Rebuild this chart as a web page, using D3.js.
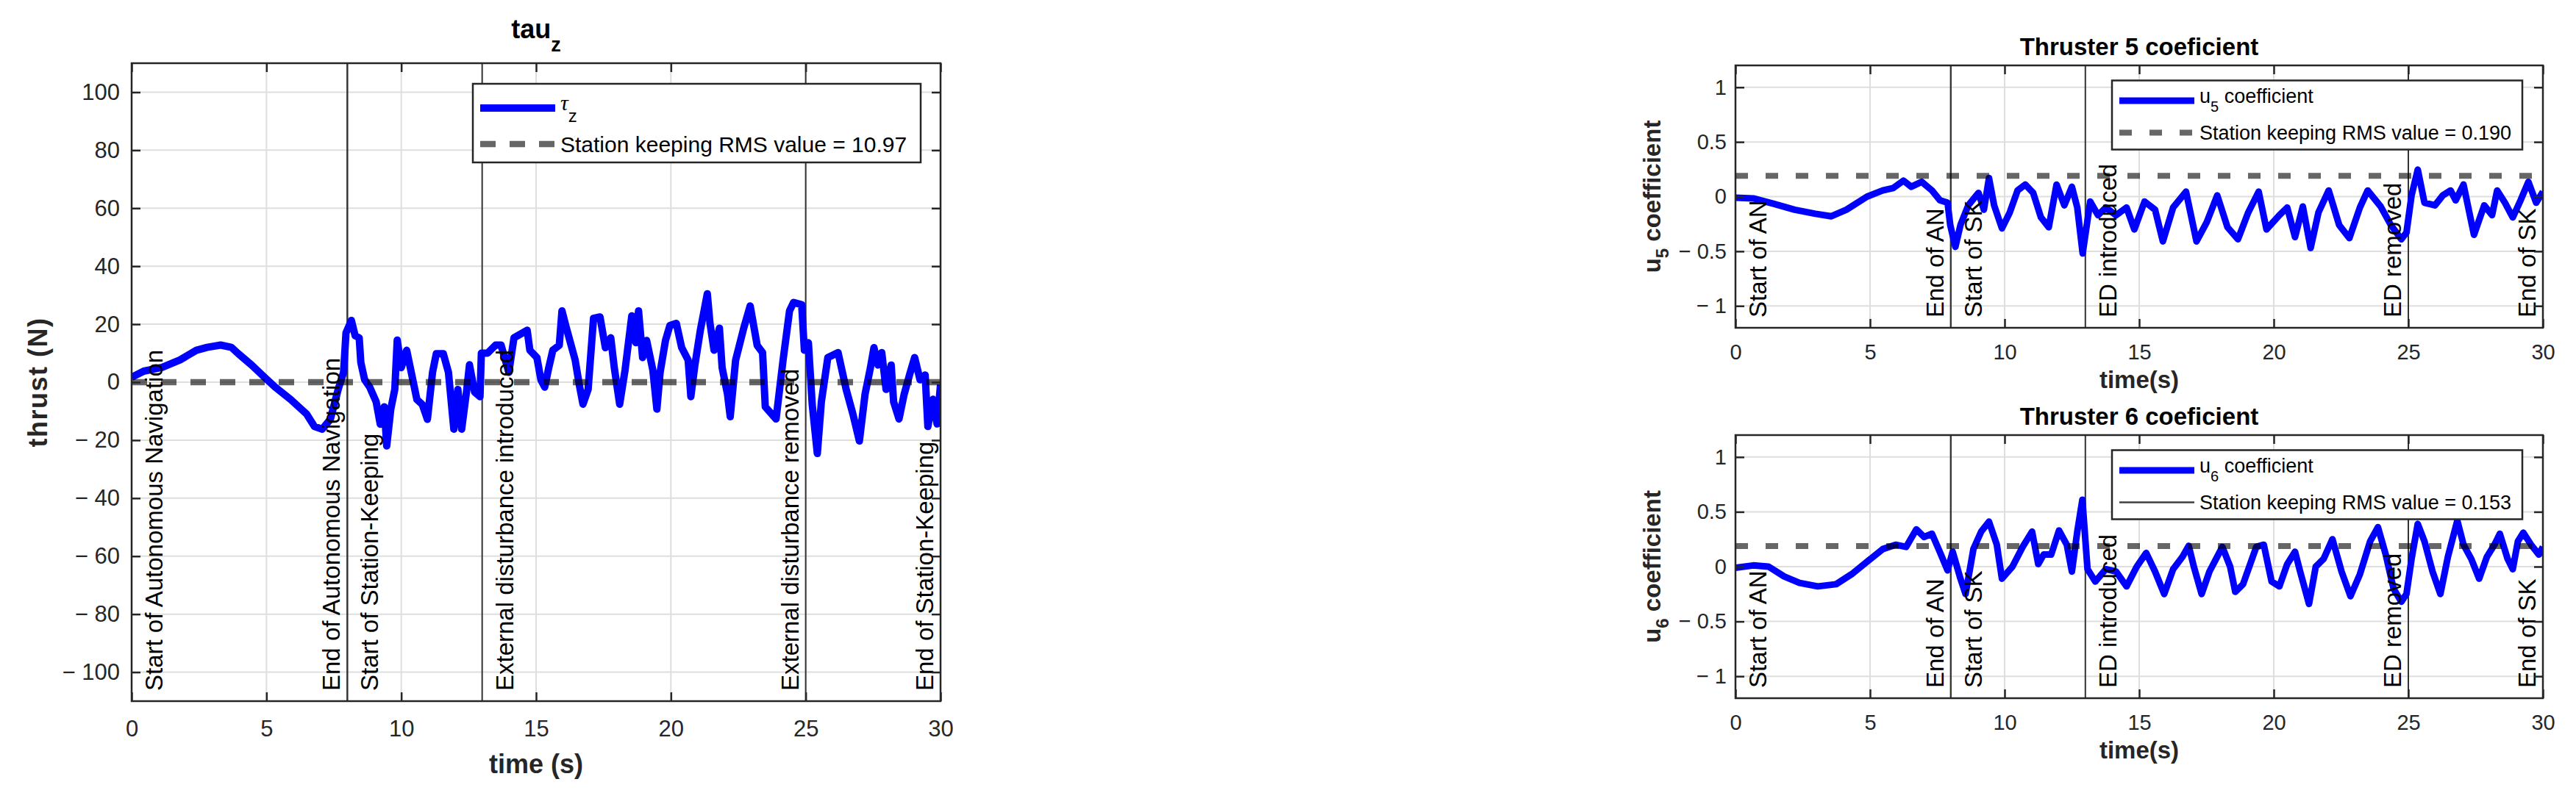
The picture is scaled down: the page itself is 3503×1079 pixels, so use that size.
<!DOCTYPE html>
<html>
<head>
<meta charset="utf-8">
<script src="https://cdn.jsdelivr.net/npm/d3@7/dist/d3.min.js"></script>
<style>
  body { margin: 0; background: #fff; }
  svg text { font-family: "Liberation Sans", Arial, Helvetica, sans-serif; fill: #000; }
</style>
</head>
<body>
<div id="chart"></div>
<script>
// ---- data ----
const tauTime = [0, 0.45, 1.13, 1.8, 2.4, 2.8, 3.3, 3.7, 3.96, 4.44, 4.93, 5.32, 5.9, 6.49, 6.78, 7.07, 7.37, 7.66, 7.86, 7.95,
  8.15, 8.29, 8.44, 8.5, 8.64, 8.83, 9.07, 9.22, 9.37, 9.46, 9.61, 9.76, 9.85, 10.0, 10.2, 10.39, 10.58, 10.78, 10.97, 11.16,
  11.3, 11.56, 11.75, 11.95, 12.1, 12.24, 12.43, 12.53, 12.72, 12.92, 12.97, 13.2, 13.5, 13.7, 13.99, 14.18, 14.67, 14.77, 15.03, 15.18,
  15.32, 15.47, 15.62, 15.86, 15.96, 16.1, 16.25, 16.45, 16.6, 16.74, 16.93, 17.13, 17.37, 17.57, 17.77, 17.9, 18.1, 18.3, 18.55, 18.7,
  18.8, 18.95, 19.1, 19.33, 19.48, 19.6, 19.8, 19.96, 20.2, 20.4, 20.64, 20.74, 20.89, 21.09, 21.23, 21.35, 21.45, 21.6, 21.8, 21.9,
  22.1, 22.2, 22.4, 22.7, 22.94, 23.2, 23.4, 23.5, 23.9, 24.16, 24.4, 24.55, 24.85, 24.95, 25.1, 25.24, 25.43, 25.58, 25.82, 26.2,
  26.5, 26.75, 26.99, 27.2, 27.4, 27.53, 27.68, 27.82, 27.98, 28.17, 28.26, 28.46, 28.65, 28.85, 29.04, 29.24, 29.43, 29.53, 29.72, 29.87, 30];
const tauValues = [1.7, 3.8, 5.1, 7.7, 11, 12, 12.8, 12, 9.8, 6, 1.7, -1.7, -6, -11, -15.3, -16.2, -12.8, -2.5, 3.4, 17,
  21.3, 16, 15.3, 6.8, 0.9, -1.7, -6.8, -14.5, -8.5, -22, -9.4, -2.5, 14.5, 5, 11, 2.5, -6, -7.7, -12.8, 3.4,
  9.8, 9.8, 3.4, -16.2, -2.5, -16.2, -2.5, 6, -3.4, -5, 10, 10, 12.8, 12.8, 3.4, 15.3, 17.9, 11, 8.5, 0.8,
  -1.7, 5, 11, 12.7, 24.6, 19.5, 14.4, 7.6, -0.8, -7.6, -2.5, 22, 22.5, 11.9, 15.3, 5, -7.6, 4.2, 22.9, 13.6,
  24.6, 8.5, 14.4, 4.2, -9.3, 3.4, 14.4, 19.5, 20.3, 11.9, 7.6, -5, 5.9, 17.8, 24.6, 30.5, 20.3, 11, 18.6, 5,
  -4.2, -11.9, 7.6, 18.6, 26.3, 12.7, 10.2, -8.5, -12.7, 7.6, 24.6, 27.5, 26.7, 11, 13.6, -7.6, -24.6, -6.8, 8.5, 10.2,
  -2.5, -11, -20.3, -4.2, 5, 11.9, 5.9, 10.2, -2.5, 5.9, -6.8, -12.7, -4.2, 2.5, 8.5, 0.8, 2.5, -15.3, -5.9, -14.4, -0.8];

const u5Time = [0, 0.66, 1.43, 2.2, 2.97, 3.55, 4.12, 4.89, 5.47, 5.86, 6.24, 6.53, 6.92, 7.3, 7.6, 7.88, 7.98, 8.17, 8.36, 8.65,
  9.03, 9.23, 9.42, 9.61, 9.9, 10.19, 10.48, 10.77, 11.06, 11.35, 11.64, 11.93, 12.22, 12.5, 12.7, 12.9, 13.18, 13.47, 13.76, 14.14,
  14.53, 14.82, 15.2, 15.59, 15.88, 16.26, 16.74, 17.13, 17.51, 17.9, 18.28, 18.67, 19.05, 19.44, 19.73, 20.21, 20.5, 20.79, 21.08, 21.37,
  21.66, 22.04, 22.43, 22.81, 23.2, 23.49, 23.97, 24.35, 24.74, 24.93, 25.12, 25.35, 25.6, 25.99, 26.28, 26.57, 26.76, 27.05, 27.44, 27.82,
  28.11, 28.3, 28.59, 28.88, 29.17, 29.46, 29.75, 30];
const u5Values = [-0.01, -0.016, -0.067, -0.12, -0.157, -0.18, -0.12, 0, 0.056, 0.078, 0.146, 0.09, 0.135, 0.056, -0.034, -0.056, -0.26, -0.46, -0.26, -0.08,
  0.034, -0.12, 0.17, -0.08, -0.29, -0.146, 0.056, 0.11, 0.034, -0.19, -0.28, 0.11, -0.08, 0.09, -0.1, -0.52, -0.045, -0.17, -0.1, -0.17,
  -0.1, -0.3, -0.045, -0.12, -0.41, -0.1, 0.045, -0.41, -0.235, 0.011, -0.28, -0.39, -0.146, 0.045, -0.3, -0.17, -0.1, -0.37, -0.09, -0.47,
  -0.146, 0.056, -0.26, -0.38, -0.1, 0.056, -0.09, -0.26, -0.39, -0.33, 0.011, 0.247, -0.056, -0.08, 0.011, 0.056, -0.034, 0.11, -0.35, -0.08,
  -0.17, 0.056, -0.056, -0.19, -0.034, 0.135, -0.056, 0.045];

const u6Time = [0, 0.66, 1.23, 1.81, 2.38, 3.06, 3.74, 4.32, 4.89, 5.47, 5.95, 6.34, 6.72, 7.01, 7.3, 7.59, 7.88, 8.07, 8.36, 8.55,
  8.84, 9.13, 9.42, 9.71, 9.9, 10.29, 10.67, 11.02, 11.25, 11.45, 11.73, 12.02, 12.31, 12.5, 12.7, 12.89, 13.08, 13.37, 13.76, 14.14,
  14.53, 14.91, 15.26, 15.59, 15.93, 16.26, 16.61, 16.84, 17.03, 17.32, 17.61, 18.09, 18.38, 18.57, 18.86, 19.35, 19.63, 19.92, 20.21, 20.5,
  20.79, 20.98, 21.31, 21.56, 21.85, 22.18, 22.52, 22.85, 23.2, 23.58, 23.87, 24.16, 24.45, 24.74, 24.93, 25.12, 25.35, 25.6, 25.9, 26.19,
  26.47, 26.82, 27.05, 27.34, 27.63, 27.92, 28.2, 28.4, 28.69, 28.88, 29.07, 29.27, 29.56, 29.85, 30];
const u6Values = [-0.01, 0.011, 0, -0.09, -0.148, -0.18, -0.16, -0.068, 0.045, 0.16, 0.2, 0.18, 0.34, 0.27, 0.3, 0.136, -0.034, 0.136, -0.11, -0.25,
  0.16, 0.32, 0.41, 0.2, -0.11, 0, 0.18, 0.32, 0.023, 0.11, 0.11, 0.33, 0.2, -0.045, 0.32, 0.61, -0.023, -0.136, -0.023, -0.045,
  -0.18, 0, 0.125, -0.045, -0.25, -0.023, 0.09, 0.19, 0, -0.25, -0.045, 0.18, 0, -0.23, -0.16, 0.18, 0.2, -0.136, -0.18, 0.023,
  0.136, -0.045, -0.34, 0, 0.07, 0.25, -0.045, -0.27, -0.07, 0.23, 0.36, 0.11, -0.2, -0.32, -0.25, 0.07, 0.39, 0.23, -0.045, -0.25,
  0.09, 0.42, 0.2, 0.07, -0.11, 0.09, 0.2, 0.3, 0.07, -0.023, 0.23, 0.31, 0.2, 0.11, 0.18];

// level where each dashed RMS line is drawn in the picture
const tauRmsLevel = 0;
const u5RmsLevel = 0.19;
const u6RmsLevel = 0.188;

const eventTimes = [0, 8, 8, 13, 25, 30];
const eventSides = ['right', 'left', 'right', 'right', 'left', 'left'];
const tauEventLabels = ['Start of Autonomous Navigation', 'End of Autonomous Navigation', 'Start of Station-Keeping',
  'External disturbance introduced', 'External disturbance removed', 'End of Station-Keeping'];
const coefEventLabels = ['Start of AN', 'End of AN', 'Start of SK', 'ED introduced', 'ED removed', 'End of SK'];

const timeTicks = [0, 5, 10, 15, 20, 25, 30];
const tauTicks = [-100, -80, -60, -40, -20, 0, 20, 40, 60, 80, 100];
const coefTicks = [-1, -0.5, 0, 0.5, 1];

const width = 3503, height = 1079;
const svg = d3.select('#chart').append('svg')
  .attr('width', width)
  .attr('height', height)
  .style('display', 'block');

const axisColor = '#262626';
const gridColor = '#dedede';
const fmt = (d) => (d < 0 ? '\u2212 ' + Math.abs(d) : String(d));

let clipId = 0;

function drawPanel(p) {
  const x = d3.scaleLinear().domain([0, 30]).range([p.left, p.right]);
  const y = d3.scaleLinear().domain(p.yDomain).range([p.bottom, p.top]);
  const g = svg.append('g');

  // grid
  g.append('g').selectAll('line').data(timeTicks).join('line')
    .attr('x1', (d) => x(d)).attr('x2', (d) => x(d))
    .attr('y1', p.top).attr('y2', p.bottom)
    .attr('stroke', gridColor).attr('stroke-width', 2);
  g.append('g').selectAll('line').data(p.yTicks).join('line')
    .attr('x1', p.left).attr('x2', p.right)
    .attr('y1', (d) => y(d)).attr('y2', (d) => y(d))
    .attr('stroke', gridColor).attr('stroke-width', 2);

  // event lines
  g.append('g').selectAll('line').data(eventTimes).join('line')
    .attr('x1', (d) => x(d)).attr('x2', (d) => x(d))
    .attr('y1', p.top).attr('y2', p.bottom)
    .attr('stroke', '#333').attr('stroke-width', 2);

  // curve, clipped to the axes box
  const id = 'clip' + clipId++;
  svg.append('clipPath').attr('id', id).append('rect')
    .attr('x', p.left).attr('y', p.top)
    .attr('width', p.right - p.left).attr('height', p.bottom - p.top);

  const line = d3.line().x((d) => x(d[0])).y((d) => y(d[1]));
  g.append('path')
    .datum(d3.zip(p.time, p.values))
    .attr('clip-path', `url(#${id})`)
    .attr('fill', 'none')
    .attr('stroke', '#0000ff')
    .attr('stroke-width', p.lineWidth)
    .attr('stroke-linejoin', 'round')
    .attr('d', line);

  // RMS dashed line
  g.append('line')
    .attr('x1', p.left).attr('x2', p.right)
    .attr('y1', y(p.rms)).attr('y2', y(p.rms))
    .attr('stroke', '#000').attr('stroke-opacity', 0.6)
    .attr('stroke-width', p.dashWidth)
    .attr('stroke-dasharray', p.dash);

  // event labels
  g.append('g').selectAll('text').data(eventTimes).join('text')
    .attr('transform', (d, i) => {
      const bx = eventSides[i] === 'right' ? x(d) + 42 : x(d) - 10;
      return `translate(${bx},${p.bottom - 14}) rotate(-90)`;
    })
    .attr('font-size', 33)
    .text((d, i) => p.eventLabels[i]);

  // axes, ticks pointing inward
  const ax = (gen) => gen.tickSizeOuter(0).tickSizeInner(-12);
  const bottomAxis = g.append('g').attr('transform', `translate(0,${p.bottom})`)
    .call(ax(d3.axisBottom(x)).tickValues(timeTicks).tickPadding(p.xPad).tickFormat(fmt));
  const leftAxis = g.append('g').attr('transform', `translate(${p.left},0)`)
    .call(ax(d3.axisLeft(y)).tickValues(p.yTicks).tickPadding(p.yPad).tickFormat(fmt));
  g.append('g').attr('transform', `translate(0,${p.top})`)
    .call(ax(d3.axisTop(x)).tickValues(timeTicks).tickFormat(''));
  g.append('g').attr('transform', `translate(${p.right},0)`)
    .call(ax(d3.axisRight(y)).tickValues(p.yTicks).tickFormat(''));

  g.selectAll('.domain').remove();
  g.selectAll('.tick line').attr('stroke', axisColor).attr('stroke-width', 2.5);
  [bottomAxis, leftAxis].forEach((a) => a.selectAll('text')
    .attr('font-size', p.tickSize)
    .style('fill', axisColor)
    .attr('font-family', '"Liberation Sans", Arial, sans-serif'));

  g.append('rect')
    .attr('x', p.left).attr('y', p.top)
    .attr('width', p.right - p.left).attr('height', p.bottom - p.top)
    .attr('fill', 'none').attr('stroke', axisColor).attr('stroke-width', 2.5);

  // legend
  const lg = g.append('g');
  lg.append('rect')
    .attr('x', p.legend.x0).attr('y', p.legend.y0)
    .attr('width', p.legend.x1 - p.legend.x0).attr('height', p.legend.y1 - p.legend.y0)
    .attr('fill', '#fff').attr('stroke', axisColor).attr('stroke-width', 2.5);
  const sx0 = p.legend.x0 + 10, sx1 = p.legend.x0 + 112;
  lg.append('line')
    .attr('x1', sx0).attr('x2', sx1).attr('y1', p.legend.rows[0]).attr('y2', p.legend.rows[0])
    .attr('stroke', '#0000ff').attr('stroke-width', p.lineWidth);
  if (p.legend.solidRms) {
    lg.append('line')
      .attr('x1', sx0).attr('x2', sx1).attr('y1', p.legend.rows[1]).attr('y2', p.legend.rows[1])
      .attr('stroke', '#404040').attr('stroke-width', 2.5);
  } else {
    lg.append('line')
      .attr('x1', sx0).attr('x2', sx1).attr('y1', p.legend.rows[1]).attr('y2', p.legend.rows[1])
      .attr('stroke', '#666').attr('stroke-width', p.dashWidth)
      .attr('stroke-dasharray', p.dash);
  }
  const t1 = lg.append('text')
    .attr('x', sx1 + 7).attr('y', p.legend.rows[0]).attr('dy', '0.1em')
    .attr('font-size', p.legendSize);
  p.legend.first(t1);
  lg.append('text')
    .attr('x', sx1 + 7).attr('y', p.legend.rows[1]).attr('dy', '0.36em')
    .attr('font-size', p.legendSize)
    .text(p.legend.second);

  // title
  const tt = g.append('text')
    .attr('x', (p.left + p.right) / 2).attr('y', p.top - p.titleGap)
    .attr('text-anchor', 'middle')
    .attr('font-weight', 'bold')
    .attr('font-size', p.titleSize);
  p.title(tt);

  // x label
  g.append('text')
    .attr('x', (p.left + p.right) / 2).attr('y', p.xLabelY)
    .attr('text-anchor', 'middle')
    .attr('font-weight', 'bold')
    .attr('font-size', p.labelSize)
    .style('fill', axisColor)
    .text(p.xLabel);

  // y label
  const yl = g.append('text')
    .attr('transform', `translate(${p.yLabelX},${(p.top + p.bottom) / 2}) rotate(-90)`)
    .attr('text-anchor', 'middle')
    .attr('font-weight', 'bold')
    .attr('font-size', p.labelSize)
    .style('fill', axisColor);
  p.yLabel(yl);
}

// tau_z panel
drawPanel({
  left: 179, right: 1279, top: 86, bottom: 954,
  yDomain: [-110, 110], yTicks: tauTicks,
  time: tauTime, values: tauValues, rms: tauRmsLevel,
  lineWidth: 10, dashWidth: 8.5, dash: '21 19',
  eventLabels: tauEventLabels,
  xPad: 26, yPad: 16, tickSize: 31, legendSize: 30,
  titleSize: 36, titleGap: 34, labelSize: 36,
  xLabel: 'time (s)', xLabelY: 1052, yLabelX: 64,
  title: (t) => {
    t.append('tspan').text('tau');
    t.append('tspan').attr('font-size', 27).attr('dy', 18).text('z');
  },
  yLabel: (t) => t.attr('letter-spacing', 1.5).text('thrust (N)'),
  legend: {
    x0: 643, x1: 1252, y0: 114, y1: 221, rows: [147, 196],
    first: (t) => {
      t.append('tspan').attr('font-family', '"Liberation Serif", serif').attr('font-style', 'italic').text('\u03c4');
      t.append('tspan').attr('font-size', 24).attr('dy', 16).text('z');
    },
    second: 'Station keeping RMS value = 10.97'
  }
});

// thruster panels share the same frame sizes
function coefPanel(top, bottom, values, time, rms, n, rmsText, solidRms, title) {
  const legTop = top + 20.5;
  drawPanel({
    left: 2360, right: 3458, top: top, bottom: bottom,
    yDomain: [-1.2, 1.2], yTicks: coefTicks,
    time: time, values: values, rms: rms,
    lineWidth: 9, dashWidth: 8, dash: '17 24',
    eventLabels: coefEventLabels,
    xPad: 22, yPad: 12, tickSize: 29, legendSize: 27,
    titleSize: 33, titleGap: 14, labelSize: 33,
    xLabel: 'time(s)', xLabelY: bottom + 82, yLabelX: 2258,
    title: (t) => t.text(title),
    yLabel: (t) => {
      t.append('tspan').text('u');
      t.append('tspan').attr('font-size', 24).attr('dy', 11).text(n);
      t.append('tspan').attr('dy', -11).text(' coefficient');
    },
    legend: {
      x0: 2872, x1: 3430, y0: legTop, y1: legTop + 94, rows: [legTop + 27.5, legTop + 71],
      solidRms: solidRms,
      first: (t) => {
        t.append('tspan').text('u');
        t.append('tspan').attr('font-size', 20).attr('dy', 12).text(n);
        t.append('tspan').attr('dy', -12).text(' coefficient');
      },
      second: rmsText
    }
  });
}

coefPanel(89, 446, u5Values, u5Time, u5RmsLevel, '5', 'Station keeping RMS value = 0.190', false, 'Thruster 5 coeficient');
coefPanel(592, 950, u6Values, u6Time, u6RmsLevel, '6', 'Station keeping RMS value = 0.153', true, 'Thruster 6 coeficient');
</script>
</body>
</html>
